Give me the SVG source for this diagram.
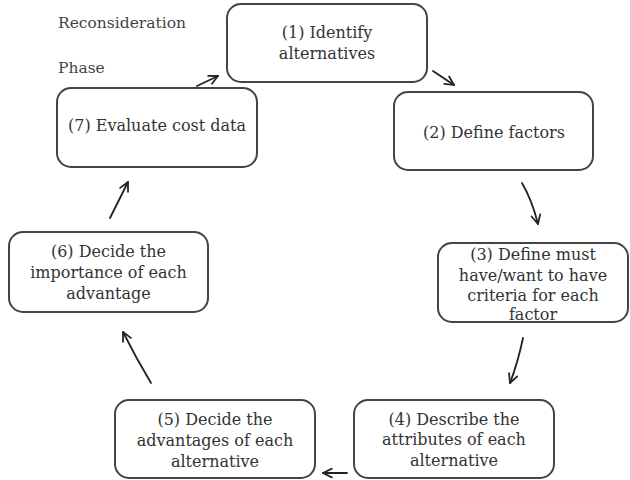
<svg xmlns="http://www.w3.org/2000/svg" width="630" height="480" viewBox="0 0 630 480">
<style>
.box{fill:#fff;stroke:#444;stroke-width:2}
.t{font-family:"DejaVu Serif","Liberation Serif",serif;font-size:16px;fill:#333;text-anchor:middle}
.l{font-family:"DejaVu Serif","Liberation Serif",serif;font-size:15.5px;fill:#444}
.c{fill:none;stroke:#222;stroke-width:1.8;stroke-linecap:round}
</style>
<defs>
<marker id="ah" viewBox="0 0 10 10" refX="9" refY="5" markerWidth="11" markerHeight="11" markerUnits="userSpaceOnUse" orient="auto">
<path d="M1,1 L9,5 L1,9" fill="none" stroke="#222" stroke-width="1.6" stroke-linecap="round" stroke-linejoin="round"/>
</marker>
</defs>
<rect width="630" height="480" fill="#fff"/>
<g id="label">
<text class="l" x="58" y="28">Reconsideration</text>
<text class="l" x="58" y="73">Phase</text>
</g>
<g id="n1">
<rect class="box" x="227" y="4" width="200" height="78" rx="14"/>
<text class="t" x="327" y="38">(1) Identify</text>
<text class="t" x="327" y="59">alternatives</text>
</g>
<g id="n2">
<rect class="box" x="394" y="92" width="199" height="78" rx="14"/>
<text class="t" x="494" y="138">(2) Define factors</text>
</g>
<g id="n3">
<rect class="box" x="438" y="243" width="190" height="79" rx="14"/>
<text class="t" x="533" y="260">(3) Define must</text>
<text class="t" x="533" y="281">have/want to have</text>
<text class="t" x="533" y="301">criteria for each</text>
<text class="t" x="533" y="320">factor</text>
</g>
<g id="n4">
<rect class="box" x="354" y="400" width="200" height="78" rx="14"/>
<text class="t" x="454" y="425">(4) Describe the</text>
<text class="t" x="454" y="445">attributes of each</text>
<text class="t" x="454" y="466">alternative</text>
</g>
<g id="n5">
<rect class="box" x="115" y="400" width="200" height="78" rx="14"/>
<text class="t" x="215" y="425">(5) Decide the</text>
<text class="t" x="215" y="446">advantages of each</text>
<text class="t" x="215" y="467">alternative</text>
</g>
<g id="n6">
<rect class="box" x="9" y="232" width="199" height="80" rx="14"/>
<text class="t" x="108.5" y="257">(6) Decide the</text>
<text class="t" x="108.5" y="278">importance of each</text>
<text class="t" x="108.5" y="299">advantage</text>
</g>
<g id="n7">
<rect class="box" x="57" y="88" width="200" height="79" rx="14"/>
<text class="t" x="157" y="131">(7) Evaluate cost data</text>
</g>
<g id="connectors">
<path class="c" d="M197,86 L218,76" marker-end="url(#ah)"/>
<path class="c" d="M433,71 L454,85" marker-end="url(#ah)"/>
<path class="c" d="M522,183 Q532,200 538,224" marker-end="url(#ah)"/>
<path class="c" d="M523,338 Q518,362 510,383" marker-end="url(#ah)"/>
<path class="c" d="M347,473 L323,473" marker-end="url(#ah)"/>
<path class="c" d="M151,383 Q136,358 123,332" marker-end="url(#ah)"/>
<path class="c" d="M110,218 L128,182" marker-end="url(#ah)"/>
</g>
</svg>
